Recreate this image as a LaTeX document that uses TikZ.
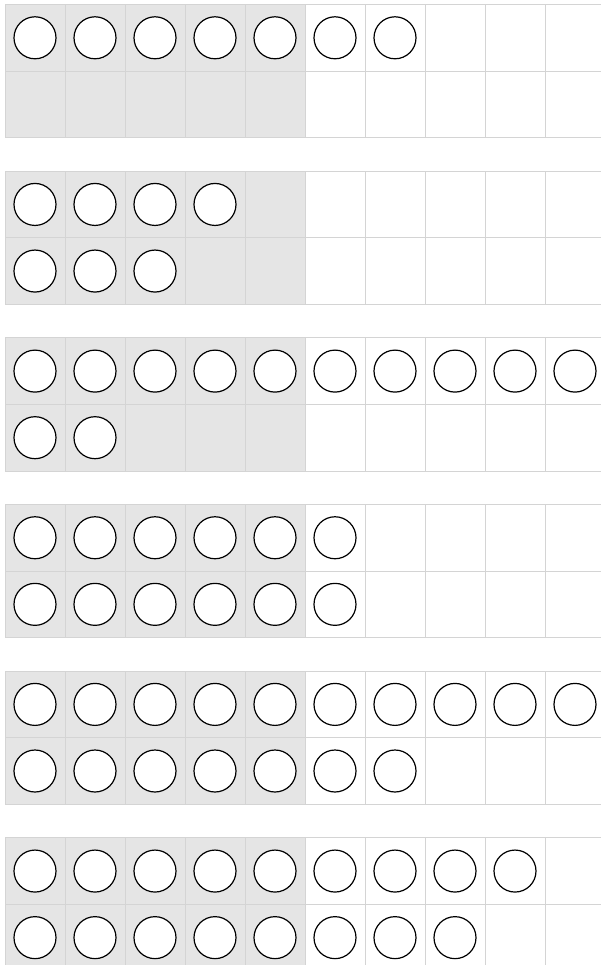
\documentclass[tikz,border=0pt]{standalone}
\definecolor{shade}{RGB}{229,229,229}
\definecolor{gridgray}{RGB}{212,212,212}
\begin{document}
\begin{tikzpicture}[x=1pt,y=-1pt,
  cell/.style={draw=gridgray, line width=1pt, minimum width=60pt, minimum height=66.6pt, inner sep=0pt, outer sep=0pt},
  dot/.style={circle, draw=black, fill=white, line width=1.2pt, minimum size=42pt, inner sep=0pt}]
\useasboundingbox (0,0) rectangle (601,965);
\clip (0,0) rectangle (601,965);
\foreach \t/\b [count=\f from 0] in {7/0,4/3,10/2,6/6,10/7,9/8} {
  \foreach \c in {1,...,10} {
    \pgfmathsetmacro\xx{5+60*(\c-0.5)}
    \pgfmathsetmacro\ya{4.5+166.65*\f+33.3}
    \pgfmathsetmacro\yb{\ya+66.6}
    \ifnum\c<6 \def\fc{shade}\else\def\fc{white}\fi
    \node[cell, fill=\fc] (cell-\f-1-\c) at (\xx,\ya) {};
    \node[cell, fill=\fc] (cell-\f-2-\c) at (\xx,\yb) {};
    \ifnum\c>\t\else \node[dot] (dot-\f-1-\c) at (cell-\f-1-\c.center) {};\fi
    \ifnum\c>\b\else \node[dot] (dot-\f-2-\c) at (cell-\f-2-\c.center) {};\fi
  }
}
\end{tikzpicture}
\end{document}
